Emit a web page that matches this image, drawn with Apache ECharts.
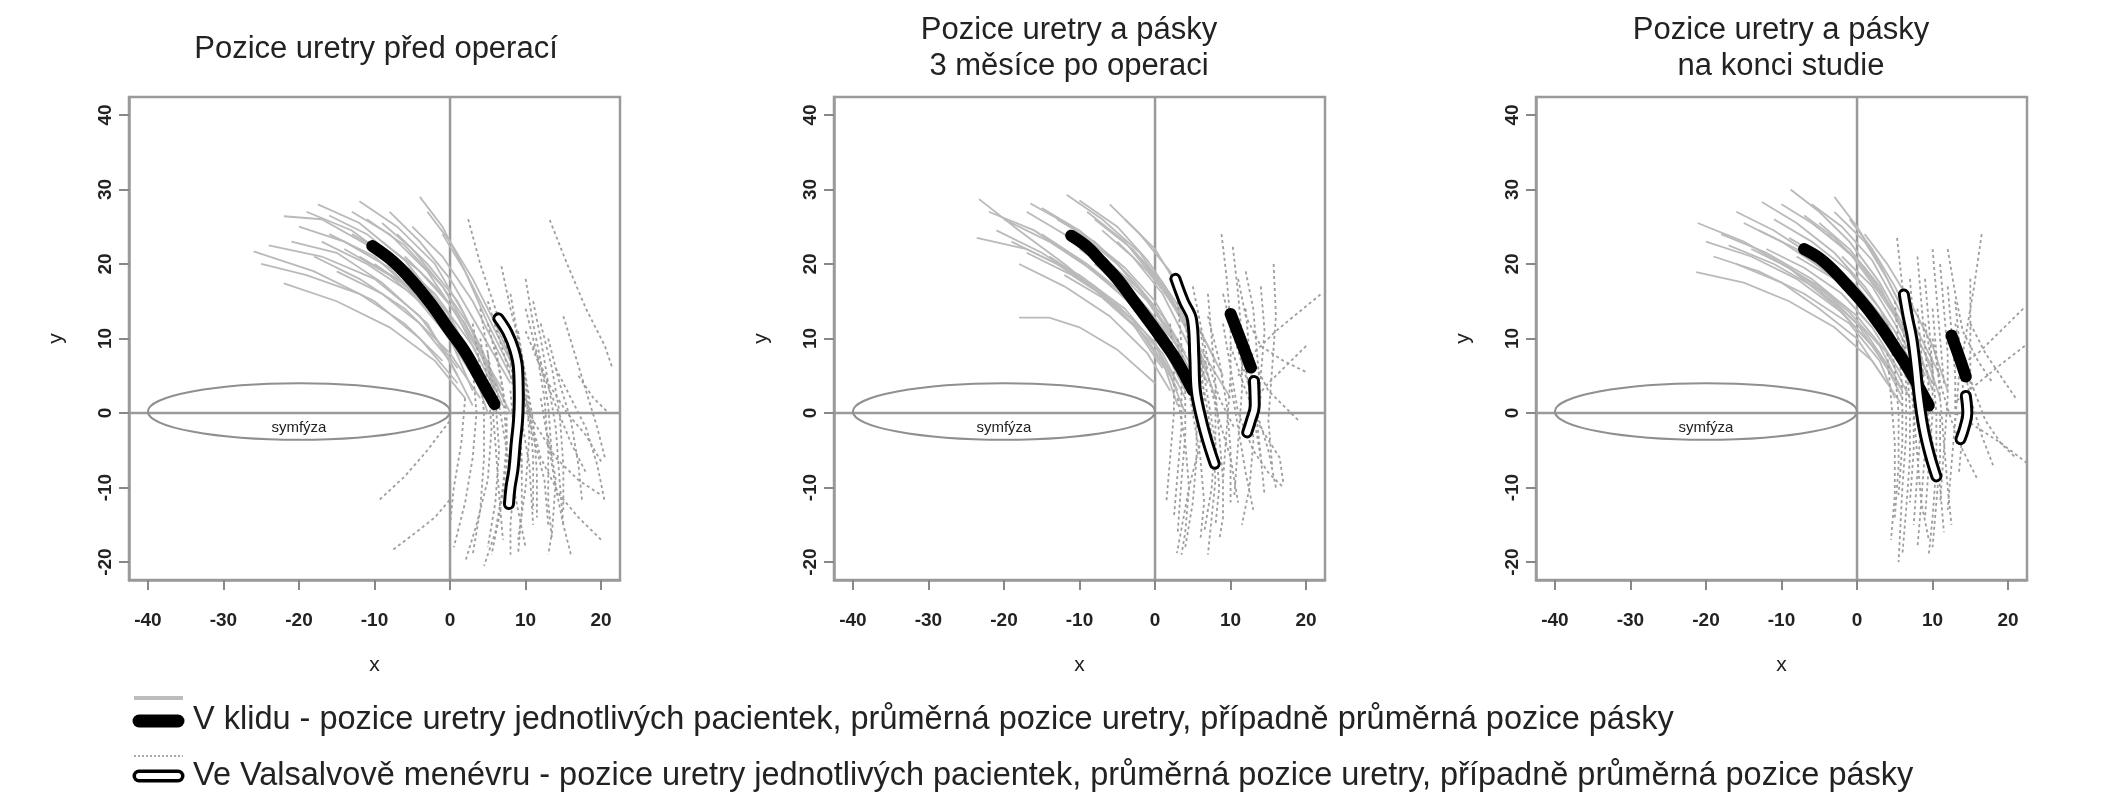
<!DOCTYPE html>
<html><head><meta charset="utf-8">
<script src="https://cdn.jsdelivr.net/npm/echarts@6/dist/echarts.min.js"></script>
<style>html,body{margin:0;padding:0;background:#fff}#c{width:2106px;height:800px}</style>
</head><body><div id="c"></div>
<script>
// ---------- axes ----------
const xTicks = [-40, -30, -20, -10, 0, 10, 20];
const yTicks = [-20, -10, 0, 10, 20, 30, 40];
const xRange = [-42.5, 22.5];
const yRange = [-22.4, 42.4];
const titles = ['Pozice uretry před operací', 'Pozice uretry a pásky\n3 měsíce po operaci', 'Pozice uretry a pásky\nna konci studie'];
const xName = 'x';
const yName = 'y';
// symphysis ellipse: centre x, centre y, half-width, half-height, label y
const symphysis = [-20, 0.2, 20, 3.8, -2];
const symphysisLabel = 'symfýza';
const legendTexts = [
  'V klidu - pozice uretry jednotlivých pacientek, průměrná pozice uretry, případně průměrná pozice pásky',
  'Ve Valsalvově menévru - pozice uretry jednotlivých pacientek, průměrná pozice uretry, případně průměrná pozice pásky'
];

// ---------- panel 1: before surgery ----------
const restMean1 = [[-10.3,22.4],[-7.5,20.3],[-5,17.7],[-2.5,14.6],[0,11],[2,8.2],[4,4.6],[5.9,1.2]];
const valsMean1 = [[6.4,12.7],[7.6,10.8],[8.5,8.5],[9.0,6.0],[9.1,2],[9.0,-1],[8.7,-4],[8.4,-7.5],[8.0,-10],[7.8,-12.2]];
const restPatients1 = [
  [[-22,26.4],[-17,26],[-10,22],[-3,15],[2,8]],
  [[-26,21.7],[-18,19],[-10,15],[-4,10],[1,4]],
  [[-22,17.4],[-15,15],[-8,11.5],[-2,7],[2,2]],
  [[-17.5,28],[-12,25.5],[-6,20.5],[0,13],[4,5]],
  [[-12,28.4],[-7,25],[-2,20],[2,13],[5,6]],
  [[-20,25],[-14,23],[-8,19.5],[-2,13],[3,5]],
  [[-16,24],[-10,21],[-4,15.5],[1,9],[5,2]],
  [[-14,22],[-8,18.5],[-3,14],[2,7],[6,0]],
  [[-18,21],[-12,18],[-6,14],[0,8],[4,2]],
  [[-11,26],[-6,22.5],[-1,17],[3,10],[7,3]],
  [[-8,27],[-4,23],[0,18],[4,11],[8,4]],
  [[-5,25],[-1,21],[3,15],[6,9],[9,3]],
  [[-24,22.5],[-17,21],[-10,18],[-4,13],[1,6]],
  [[-13,24],[-7,20.5],[-2,16],[3,9],[6,3]],
  [[-9,23],[-4,19],[0,14.5],[4,8],[7,1]],
  [[-6,21],[-2,17],[2,12],[5,6],[8,0]],
  [[-15,19],[-9,16],[-4,12],[0,7],[3,1]],
  [[-3,27],[0,23],[3,18],[6,12],[9,5]],
  [[-19,27],[-13,24.5],[-7,20],[-1,13],[3,6]],
  [[-10,20],[-5,16.5],[-1,12],[3,6],[5,0]],
  [[-21,23],[-15,21.5],[-9,17.5],[-3,12],[1,5]],
  [[-16,26.5],[-11,24],[-5,19],[0,12.5],[4,4]],
  [[-7,24],[-3,20],[1,15],[4,9],[7,2]],
  [[-12,21],[-7,18],[-2,13.5],[2,8],[5,2]],
  [[-1,24],[2,19],[5,13],[8,7],[10,1]],
  [[-4,29],[-1,25],[2,19],[5,12],[8,6]],
  [[-25,20],[-19,18.5],[-12,16],[-6,12],[-1,7]],
  [[-9,25.5],[-5,22],[-1,17],[3,11],[6,4]],
  [[-13,27],[-8,24],[-3,19],[1,13],[4,7]],
  [[-17,23],[-11,20],[-5,16],[0,10],[3,3]]
];
const valsPatients1 = [
  [[2.4,26],[4,20],[6,14],[8,7],[9,0],[9.5,-8]],
  [[6.8,19.7],[8,14],[9.5,8],[10.5,1],[11,-6],[11,-13]],
  [[13.2,25.9],[15.5,20],[18,14],[20.5,9],[21.5,6]],
  [[8,16],[9,10],[10,4],[10.5,-3],[10,-10],[9,-17]],
  [[5,12],[6.5,6],[7.5,0],[7.5,-7],[6.5,-14],[5.5,-19]],
  [[4,10],[5,4],[5.5,-2],[5,-9],[3.5,-15],[2,-20]],
  [[10,14],[11.5,8],[12.5,2],[13,-5],[13,-12],[13.5,-17]],
  [[12,12],[13.5,6],[14.5,0],[15,-7],[15,-13]],
  [[6,9],[7,3],[7.5,-4],[7,-10],[6,-16],[4.5,-20.5]],
  [[15,13],[16.5,8],[18,3],[19.5,-2],[20.5,-6]],
  [[9,6],[10.5,0],[12,-6],[14.5,-11],[17,-14],[20,-17]],
  [[3,6],[3.5,0],[3,-6],[2,-12],[0.5,-18]],
  [[7,11],[9,5],[11,-1],[14,-6],[17,-9],[20,-11]],
  [[11,9],[13,4],[15.5,0],[18,-3],[20,-6.5]],
  [[-9.3,-11.6],[-6,-8.5],[-3,-5],[0,-1]],
  [[-7.5,-18.3],[-4.5,-16],[-2,-14],[0,-11.6]],
  [[2,2],[1.5,-4],[0.5,-10],[0,-15],[0,-21]],
  [[8,3],[8.5,-3],[8.5,-9],[8,-15],[8,-19]],
  [[14,6],[16,2],[18,-2],[19.5,-7],[20.5,-12]],
  [[5,15],[6.5,10],[8,5],[9.5,-1],[10.5,-7],[11,-15]],
  [[10,18],[11,12],[12,7],[13,1],[13.5,-6]],
  [[17,5],[19,2],[21,0]],
  [[13,-3],[14,-9],[13.5,-16],[13,-19]],
  [[4,14],[5,8],[6,2],[6.5,-5],[6,-12],[5,-18]],
  [[7,13],[8,7],[9,1],[9.5,-6],[9.5,-13],[9,-19]],
  [[9,11],[10,5],[11,-1],[11.5,-8],[11.5,-14]],
  [[11,15],[12,10],[13,4],[14,-2],[14.5,-9],[15,-15]],
  [[3,12],[4,6],[4.5,0],[4.5,-6],[4,-13],[3,-19]],
  [[6,4],[7,-2],[8,-8],[9,-13],[10,-18]],
  [[8,9],[9.5,3],[11,-3],[12.5,-9],[13,-15]],
  [[12,2],[13,-4],[14,-10],[15,-15],[16,-19]],
  [[10,11],[12,6],[14,1],[16,-4],[18,-8]],
  [[5,8],[5.5,2],[6,-4],[6.5,-11],[7,-17]],
  [[13,10],[14.5,4],[16,-1],[17,-7],[17.5,-12]]
];

// ---------- panel 2: 3 months after surgery ----------
const restMean2 = [[-11.1,23.8],[-9,22.3],[-7,20.2],[-5,18],[-3,15.3],[-1,12.6],[1,9.8],[3,6.8],[5,3]];
const valsMean2 = [[2.7,18],[3.8,15],[4.9,12.5],[5.2,7.5],[5.4,3],[6.2,-1],[7.0,-4],[7.9,-6.8]];
const tapeRest2 = [[10,13.3],[11.4,9.6],[12.7,6.1]];
const tapeVals2 = [[13.1,4.3],[13.2,1],[12.7,-1],[12.2,-2.6]];
const restPatients2 = [
  [[-23.3,28.7],[-18,24.5],[-12,20],[-6,15],[0,9],[3,4]],
  [[-23.6,23.5],[-17,22],[-10,18.5],[-4,14],[1,8],[4,2]],
  [[-16.5,28.1],[-11,25],[-5,20],[0,14],[4,7]],
  [[-11.7,29.3],[-7,26],[-2,21.5],[2,15.5],[6,8]],
  [[-20,26],[-14,23],[-8,19],[-2,13.5],[2,8],[5,2]],
  [[-15,24],[-9,20],[-3,15],[1,10],[4,4]],
  [[-9,27],[-4,23],[0,18],[4,12],[7,6]],
  [[-18,20],[-12,17],[-6,13],[-1,8],[2,3]],
  [[-13,26],[-8,23],[-3,18],[1,13],[5,6]],
  [[-6,28],[-2,24],[2,19],[5,13],[8,7]],
  [[-21,24.5],[-15,21.5],[-9,17.5],[-3,12],[1,6]],
  [[-10,22],[-5,18.5],[-1,14],[3,9],[6,3]],
  [[-14,21],[-8,17],[-3,12.5],[1,7],[3,1]],
  [[-7,24.5],[-3,21],[1,16],[4,10],[7,4]],
  [[-17,27],[-12,24],[-6,20],[-1,15],[3,9]],
  [[-4,26],[0,22],[3,17],[6,11],[9,5]],
  [[-18,12.8],[-14,12.8],[-10,11.5],[-5,8.5],[0,4]],
  [[-12,18.5],[-7,15.5],[-2,11],[2,5],[4,0]],
  [[-3,22],[1,17.5],[4,12],[7,7],[10,2]],
  [[-8,20],[-3,16],[1,11.5],[4,5.5],[6,0]],
  [[-22,27],[-16,24.5],[-10,20.5],[-4,15.5],[1,9],[4,3]],
  [[-19,23],[-13,20],[-7,16],[-2,11],[2,5]],
  [[-15,27.5],[-10,24.5],[-4,19.5],[0,15],[4,8]],
  [[-8,26],[-3,22],[1,17],[4,11.5],[7,5]],
  [[-12,24],[-7,21],[-2,16.5],[2,11],[5,4]],
  [[-5,23],[-1,19],[3,14],[6,8],[8,2]],
  [[-10,28.5],[-5,25],[-1,20.5],[3,14.5],[6,8.5]],
  [[-17,21.5],[-11,18.5],[-5,14.5],[0,9.5],[3,3]]
];
const valsPatients2 = [
  [[8.8,24],[9.5,18],[10,12],[10,5],[9.5,-2],[9,-9]],
  [[10.3,22.3],[11,16],[11.5,10],[11.5,3],[11,-4],[10.5,-11]],
  [[15.7,20],[16,13],[15.5,6],[15,-1],[15.5,-7]],
  [[21.9,15.9],[19,13.5],[16,11],[13,8],[11,5]],
  [[20,9],[17.5,6.5],[15,4],[12.5,1]],
  [[5,14],[6,8],[6.5,2],[6,-4],[4.5,-10],[2.9,-18.8]],
  [[3,10],[3.5,4],[3.5,-2],[3,-8],[2.5,-14]],
  [[7,16],[7.5,10],[8,4],[8,-3],[7.5,-10],[6.5,-16]],
  [[9,12],[10,6],[11,0],[13,-5],[15,-8],[17,-10]],
  [[4,6],[5,0],[6,-6],[6.5,-12],[6,-17]],
  [[12,14],[12.5,8],[13,2],[13,-4],[12.5,-10],[11.5,-15]],
  [[6,11],[7,5],[8.5,-1],[10,-6],[11,-12]],
  [[10,9],[12,3],[14,-2],[16.5,-6],[17,-9.5]],
  [[2,12],[2.5,6],[2.5,0],[2,-6],[1.5,-12]],
  [[14,17],[14.5,11],[14,5],[13.5,-1],[14,-6]],
  [[11,18],[12,13],[14,9],[17,7],[20,5.5]],
  [[8,3],[8.5,-3],[9,-9],[9,-14],[8.5,-17]],
  [[5,17],[6,12],[7,7],[8.5,2],[10.5,-2]],
  [[13,7],[15,3],[17,1],[19,-1]],
  [[3,2],[4,-4],[4.5,-10],[4,-16],[3.5,-19]],
  [[4,12],[5,6],[5.5,0],[5.5,-6],[5,-12],[4,-18]],
  [[6,8],[7,2],[8,-4],[8.5,-10],[8,-15]],
  [[7,13],[8.5,7],[9.5,1],[10,-5],[10,-12]],
  [[9,16],[10.5,10],[12,5],[13.5,0],[15,-5],[16,-10]],
  [[3,15],[3.5,9],[4,3],[4,-3],[3.5,-9],[3,-16]],
  [[11,12],[12,6],[13,0],[14,-6],[14.5,-11]],
  [[5,9],[6.5,3],[7.5,-3],[8,-9],[7.5,-14],[7,-19]],
  [[12,19],[13,14],[13.5,8],[14,2]],
  [[10,4],[11,-2],[12,-8],[13,-13]]
];

// ---------- panel 3: end of study ----------
const restMean3 = [[-7,22],[-5,20.8],[-3,19],[-1,16.8],[1,14.5],[3,11.8],[5,8.8],[7,5.6],[9.5,1]];
const valsMean3 = [[6.2,15.9],[6.7,13],[7.3,10],[7.8,6],[8.2,2],[8.8,-2],[9.6,-5.5],[10.5,-8.5]];
const tapeRest3 = [[12.5,10.4],[13.5,7.6],[14.4,4.9]];
const tapeVals3 = [[14.4,2.3],[14.6,0],[14.2,-2],[13.7,-3.5]];
const restPatients3 = [
  [[-21.1,25.5],[-15,23],[-9,19.5],[-3,14.5],[2,9],[6,3]],
  [[-21.3,18.9],[-15,17.5],[-9,15],[-3,11.5],[2,7],[6,1]],
  [[-12.6,28.3],[-8,25.5],[-3,21.5],[1,17],[5,11],[8,5]],
  [[-8.8,30],[-5,27],[-1,23],[3,17.5],[6,12],[9,5]],
  [[-18,24],[-12,21.5],[-6,18],[0,13],[4,8],[7,2]],
  [[-16,27],[-11,24.5],[-5,20.5],[0,16],[4,10],[7,4]],
  [[-14,22],[-9,19.5],[-4,16],[1,11],[5,5]],
  [[-11,26],[-6,23],[-1,19],[3,14],[6,8],[9,2]],
  [[-6,28],[-2,25],[2,20.5],[5,15],[8,9],[10,3]],
  [[-19,21],[-13,19],[-7,16],[-1,12],[3,7],[5,2]],
  [[-9,23.5],[-4,20.5],[0,17],[4,12],[7,6],[9,0]],
  [[-3,27],[1,23],[4,18],[7,12],[10,6]],
  [[-13,24.5],[-8,22],[-3,18],[1,14],[5,8],[8,2]],
  [[-4,24],[0,20.5],[4,15],[7,9],[9,3]],
  [[-16,20],[-10,17.5],[-5,14],[0,10],[4,4]],
  [[-1,26],[2,22],[5,17],[8,11],[11,5]],
  [[-10,20],[-5,17],[-1,13.5],[3,9],[6,3]],
  [[-7,26.5],[-3,23.5],[1,19.5],[5,13.5],[8,7]],
  [[1,24],[4,20],[7,15],[10,9],[12,3]],
  [[-2,21],[2,17],[5,12],[8,6],[10,0]],
  [[-20,23],[-14,21],[-8,18],[-2,13.5],[3,8],[6,2]],
  [[-15,25.5],[-10,23],[-4,19],[1,14.5],[5,9],[8,3]],
  [[-10,28],[-6,25.5],[-1,21.5],[3,16],[7,10],[10,4]],
  [[-5,25.5],[-1,22],[3,17],[6,11],[9,5]],
  [[-12,22],[-7,19.5],[-2,16],[2,11.5],[6,5]],
  [[-17,22.5],[-11,20],[-5,16.5],[0,12],[4,6]],
  [[-3,29],[0,25],[3,20],[6,14],[9,8],[11,2]],
  [[-8,21],[-3,18],[1,14],[5,9],[8,3]]
];
const valsPatients3 = [
  [[5.3,23.5],[6,17],[7,10],[7.5,3],[7.5,-5],[7,-12]],
  [[16.5,24],[15.5,17],[14.5,11],[13.5,5],[13,-1]],
  [[22.2,9],[19,6.5],[16,4],[13,1.5]],
  [[22.5,-6.7],[19,-4],[16,-2],[13,0]],
  [[22,14],[19,11],[16,8],[13,6]],
  [[9,18],[9.5,12],[10,6],[10,0],[9.5,-7],[9,-14]],
  [[11,20],[11.5,14],[12,8],[12,2],[11.5,-5],[11,-12]],
  [[6,10],[6.5,4],[6.5,-3],[6,-10],[5.5,-20]],
  [[8,14],[8.5,8],[9,2],[9,-5],[8.5,-12],[8,-18]],
  [[13,15],[13.5,10],[14,4],[14,-2],[13.5,-8]],
  [[4,8],[4.5,2],[5,-4],[5,-11],[4.5,-17]],
  [[10,10],[11,4],[12.5,-1],[14,-5],[16,-9]],
  [[7,6],[7.5,0],[8,-6],[8.5,-12],[9.5,-17]],
  [[12,22],[13,16],[14,11],[16,7],[18,4]],
  [[15,12],[17,8],[19,5],[21,2]],
  [[10,14],[10.5,8],[11,2],[11.5,-4],[12,-10],[12.5,-15]],
  [[5,15],[5.5,9],[6,3],[6,-4],[5.5,-11]],
  [[14,8],[15.5,3],[17,-1],[19,-4],[21,-6]],
  [[8,21],[8.5,15],[9,9],[9.5,3]],
  [[11,0],[11,-6],[10.5,-12],[10,-18]],
  [[6,13],[6.5,7],[7,1],[7,-6],[6.5,-13],[6,-19]],
  [[7,18],[7.5,12],[8,6],[8.5,-1],[8,-8],[7.5,-15]],
  [[9,12],[10,6],[10.5,0],[10.5,-7],[10,-14],[9.5,-19]],
  [[12,17],[12.5,11],[13,5],[13,-1],[12.5,-7],[12,-13]],
  [[4,12],[5,6],[5.5,0],[5.5,-7],[5,-14]],
  [[8,8],[9,2],[10,-4],[11,-10],[11.5,-16]],
  [[13,12],[14,7],[15,2],[16.5,-3],[18,-7]],
  [[10,22],[10.5,16],[11,10],[11.5,4]],
  [[15,18],[15,12],[15,6],[15,0]]
];

const panels = [
  {restMean: restMean1, valsMean: valsMean1, tapeRest: null, tapeVals: null, rest: restPatients1, vals: valsPatients1},
  {restMean: restMean2, valsMean: valsMean2, tapeRest: tapeRest2, tapeVals: tapeVals2, rest: restPatients2, vals: valsPatients2},
  {restMean: restMean3, valsMean: valsMean3, tapeRest: tapeRest3, tapeVals: tapeVals3, rest: restPatients3, vals: valsPatients3}
];

// ---------- layout ----------
const gridLefts = [129, 834, 1536];
const gridTop = 97, gridW = 491, gridH = 483;
const titleCenters = [371, 1064, 1776];
const FONT = '"Liberation Sans", Arial, sans-serif';
const BOX = '#9a9a9a';

const grids = [], xAxes = [], yAxes = [], series = [], titleOpts = [];
panels.forEach((p, i) => {
  grids.push({left: gridLefts[i], top: gridTop, width: gridW, height: gridH, show: true,
    borderColor: BOX, borderWidth: 2.5, backgroundColor: 'transparent', containLabel: false, outerBoundsMode: 'none'});
  xAxes.push({gridIndex: i, type: 'value', min: xRange[0], max: xRange[1],
    axisLine: {show: true, onZero: false, lineStyle: {color: BOX, width: 2.5}},
    splitLine: {show: false},
    axisTick: {show: true, length: 10, customValues: xTicks, lineStyle: {color: '#888', width: 2}},
    axisLabel: {customValues: xTicks, margin: 31, fontSize: 19, fontWeight: 'bold', color: '#222', fontFamily: FONT},
    name: xName, nameLocation: 'middle', nameGap: 75, nameTextStyle: {fontSize: 21, color: '#222', fontFamily: FONT}});
  yAxes.push({gridIndex: i, type: 'value', min: yRange[0], max: yRange[1],
    axisLine: {show: true, onZero: false, lineStyle: {color: BOX, width: 2.5}},
    splitLine: {show: false},
    axisTick: {show: true, length: 10, customValues: yTicks, lineStyle: {color: '#888', width: 2}},
    axisLabel: {customValues: yTicks, margin: 14, rotate: 90, fontSize: 19, fontWeight: 'bold', color: '#222', fontFamily: FONT},
    name: yName, nameLocation: 'middle', nameGap: 62, nameRotate: 90, nameTextStyle: {fontSize: 21, color: '#222', fontFamily: FONT}});
  const titleLines = titles[i].split('\n').length;
  titleOpts.push({text: titles[i], left: titleCenters[i], top: titleLines === 1 ? 26 : 7, textAlign: 'center',
    textStyle: {fontSize: 31, fontWeight: 'normal', color: '#222', fontFamily: FONT, lineHeight: 36}});

  const ax = {xAxisIndex: i, yAxisIndex: i, silent: true, animation: false};
  // reference lines x = 0 and y = 0
  series.push(Object.assign({type: 'lines', coordinateSystem: 'cartesian2d', polyline: true, z: 1,
    lineStyle: {color: BOX, width: 2.5, opacity: 1},
    data: [{coords: [[0, yRange[0]], [0, yRange[1]]]}, {coords: [[xRange[0], 0], [xRange[1], 0]]}]}, ax));
  // symphysis
  series.push(Object.assign({type: 'custom', z: 2, data: [symphysis],
    renderItem: (params, api) => {
      const c = api.coord([api.value(0), api.value(1)]);
      const s = api.size([api.value(2), api.value(3)]);
      const lp = api.coord([api.value(0), api.value(4)]);
      return {type: 'group', children: [
        {type: 'ellipse', shape: {cx: c[0], cy: c[1], rx: s[0], ry: s[1]}, style: {fill: null, stroke: '#8f8f8f', lineWidth: 2}},
        {type: 'text', x: lp[0], y: lp[1], style: {text: symphysisLabel, fill: '#222', font: '15px ' + FONT, align: 'center', verticalAlign: 'middle'}}
      ]};
    }}, ax));
  // individual patients (rest: solid, valsalva: dotted)
  series.push(Object.assign({type: 'lines', coordinateSystem: 'cartesian2d', polyline: true, z: 3,
    lineStyle: {color: '#bababa', width: 1.8, opacity: 1},
    data: p.rest.map(c => ({coords: c}))}, ax));
  series.push(Object.assign({type: 'lines', coordinateSystem: 'cartesian2d', polyline: true, z: 3,
    lineStyle: {color: '#9e9e9e', width: 1.8, type: [3, 3], opacity: 1},
    data: p.vals.map(c => ({coords: c}))}, ax));
  // means
  const solid = (d, z) => Object.assign({type: 'line', data: d, smooth: 0.4, symbol: 'none', showSymbol: false, z: z,
    lineStyle: {color: '#000', width: 12, cap: 'round', join: 'round'}}, ax);
  const outlined = (d, z) => [
    Object.assign({type: 'line', data: d, smooth: 0.4, symbol: 'none', showSymbol: false, z: z,
      lineStyle: {color: '#000', width: 12, cap: 'round', join: 'round'}}, ax),
    Object.assign({type: 'line', data: d, smooth: 0.4, symbol: 'none', showSymbol: false, z: z + 1,
      lineStyle: {color: '#fff', width: 6, cap: 'round', join: 'round'}}, ax)
  ];
  series.push(solid(p.restMean, 5));
  series.push(...outlined(p.valsMean, 6));
  if (p.tapeRest) series.push(solid(p.tapeRest, 5));
  if (p.tapeVals) series.push(...outlined(p.tapeVals, 6));
});

// ---------- legend (drawn) ----------
const lx0 = 134, lx1 = 183, tx = 193;
const LFONT = '32.5px ' + FONT;
const graphic = [
  {type: 'line', shape: {x1: lx0, y1: 698, x2: lx1, y2: 698}, style: {stroke: '#bdbdbd', lineWidth: 4}},
  {type: 'line', shape: {x1: lx0 + 5, y1: 721, x2: lx1 - 5, y2: 721}, style: {stroke: '#000', lineWidth: 13, lineCap: 'round'}},
  {type: 'line', shape: {x1: lx0, y1: 756, x2: lx1, y2: 756}, style: {stroke: '#a9a9a9', lineWidth: 2, lineDash: [2, 2]}},
  {type: 'line', shape: {x1: lx0 + 5, y1: 776, x2: lx1 - 5, y2: 776}, style: {stroke: '#000', lineWidth: 13, lineCap: 'round'}},
  {type: 'line', shape: {x1: lx0 + 5, y1: 776, x2: lx1 - 5, y2: 776}, style: {stroke: '#fff', lineWidth: 6, lineCap: 'round'}},
  {type: 'text', x: tx, y: 720, style: {text: legendTexts[0], font: LFONT, fill: '#222', verticalAlign: 'middle'}},
  {type: 'text', x: tx, y: 776, style: {text: legendTexts[1], font: LFONT, fill: '#222', verticalAlign: 'middle'}}
];

const chart = echarts.init(document.getElementById('c'), null, {renderer: 'canvas'});
chart.setOption({
  animation: false,
  backgroundColor: '#fff',
  title: titleOpts,
  grid: grids, xAxis: xAxes, yAxis: yAxes,
  series: series,
  graphic: graphic
});
</script>
</body></html>
